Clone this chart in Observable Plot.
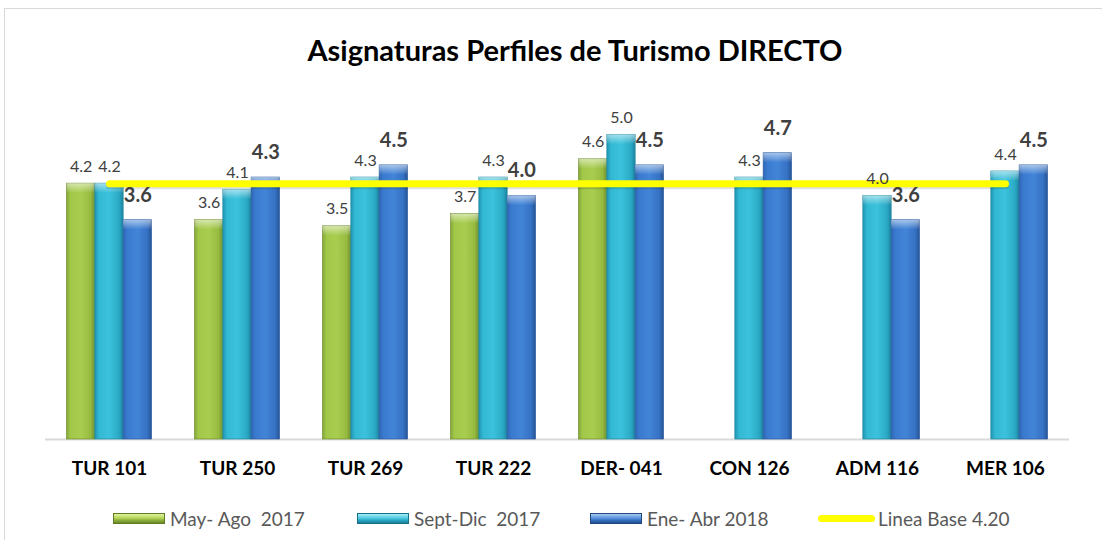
<!DOCTYPE html>
<html><head><meta charset="utf-8">
<script src="https://cdn.jsdelivr.net/npm/d3@7"></script>
<script src="https://cdn.jsdelivr.net/npm/@observablehq/plot@0.6"></script>
<style>
body{margin:0;background:#fff;overflow:hidden;}
#wrap{position:relative;width:1102px;height:540px;overflow:hidden;font-family:Lato,"Open Sans",sans-serif;background:#fff;}
#frame{position:absolute;left:4px;top:8px;width:1200px;height:600px;border-top:1px solid #d9d9d9;border-left:1px solid #d9d9d9;box-sizing:border-box;}
#title{position:relative;height:90px;box-sizing:border-box;padding-top:35px;padding-left:48px;text-align:center;font-weight:700;font-size:29px;line-height:29px;color:#000;white-space:nowrap;}
#chart{position:relative;height:405px;}
#legend{position:relative;height:45px;font-size:19px;color:#595959;}
.item{position:absolute;top:13px;height:20px;display:flex;align-items:center;white-space:pre;}
.sw{width:52px;height:11px;margin-right:5px;box-sizing:border-box;}
.ln{width:57px;height:7px;border-radius:4px;background:#ffff00;margin-right:3px;}
</style></head>
<body>
<div id="wrap">
  <div id="frame"></div>
  <div id="title"></div>
  <div id="chart"></div>
  <div id="legend"></div>
</div>
<script>
const titleText = "Asignaturas Perfiles de Turismo DIRECTO";
const categories = ["TUR 101","TUR 250","TUR 269","TUR 222","DER- 041","CON 126","ADM 116","MER 106"];
const seriesNames = ["May- Ago  2017","Sept-Dic  2017","Ene- Abr 2018"];
const mayAgo2017  = [4.2, 3.6, 3.5, 3.7, 4.6, null, null, null];
const septDic2017 = [4.2, 4.1, 4.3, 4.3, 5.0, 4.3, 4.0, 4.4];
const eneAbr2018  = [3.6, 4.3, 4.5, 4.0, 4.5, 4.7, 3.6, 4.5];
const lineaBase = 4.20;
const lineaBaseLabel = "Linea Base 4.20";

document.getElementById("title").textContent = titleText;

const seriesValues = [mayAgo2017, septDic2017, eneAbr2018];
const rowsOf = vals => categories.map((c, i) => ({cat: c, v: vals[i]})).filter(d => d.v != null);

const W = 1102, H = 405, mL = 45, mR = 33, pIn = 0.336, pOut = 0.168;
const bw = (W - mL - mR) / (categories.length - pIn + 2 * pOut) * (1 - pIn);
const third = bw / 3;
const slots = [
  {insetLeft: 0, insetRight: 2 * third},
  {insetLeft: third, insetRight: third},
  {insetLeft: 2 * third, insetRight: 0}
];
const dxs = [-third, 0, third];
const strokes = ["#6d8c2a", "#1f8aa5", "#2a5a9e"];
const grads = ["gMay", "gSep", "gEne"];

const marks = [Plot.ruleY([0], {stroke: "#d9d9d9", strokeWidth: 2})];
seriesValues.forEach((vals, s) => {
  const rows = rowsOf(vals);
  marks.push(Plot.barY(rows, {x: "cat", y: "v", fill: `url(#${grads[s]})`, stroke: strokes[s], strokeWidth: 0.7, ...slots[s]}));
  marks.push(Plot.barY(rows, {x: "cat", y1: d => d.v, y2: d => d.v - 0.16, fill: "url(#hl)", ...slots[s]}));
});
// linea base (shadow + line)
marks.push(Plot.lineY(categories, {x: d => d, y: () => lineaBase, stroke: "#000", strokeOpacity: 0.12, strokeWidth: 7, dy: 2, strokeLinecap: "round"}));
marks.push(Plot.lineY(categories, {x: d => d, y: () => lineaBase, stroke: "#ffff00", strokeWidth: 7, strokeLinecap: "round"}));
// labels
seriesValues.forEach((vals, s) => {
  const rows = rowsOf(vals);
  const bold = s === 2;
  marks.push(Plot.text(rows, {
    x: "cat", y: "v", text: d => d.v.toFixed(1), dx: dxs[s], dy: bold ? -25 : -17,
    fill: "#404040", fontSize: bold ? 20 : 16, fontWeight: bold ? "bold" : "normal"
  }));
});

const svg = Plot.plot({
  width: W, height: H,
  marginLeft: mL, marginRight: mR, marginTop: 14, marginBottom: 56,
  style: {fontFamily: "Lato, 'Open Sans', sans-serif", fontSize: "19px", fontWeight: "bold", color: "#000", background: "transparent", overflow: "visible"},
  x: {domain: categories, paddingInner: pIn, paddingOuter: pOut, round: false, tickSize: 0, tickPadding: 22, label: null},
  y: {domain: [0, 5.5], axis: null},
  marks
});

const ns = "http://www.w3.org/2000/svg";
const defs = document.createElementNS(ns, "defs");
defs.innerHTML = `
<linearGradient id="gMay" x1="0" x2="1" y1="0" y2="0">
  <stop offset="0" stop-color="#86a938"/><stop offset="0.15" stop-color="#a2c84a"/>
  <stop offset="0.5" stop-color="#a9cd4e"/><stop offset="0.85" stop-color="#96bb41"/><stop offset="1" stop-color="#6f8f2a"/>
</linearGradient>
<linearGradient id="gSep" x1="0" x2="1" y1="0" y2="0">
  <stop offset="0" stop-color="#2196b1"/><stop offset="0.15" stop-color="#33b8d3"/>
  <stop offset="0.5" stop-color="#3cc2dc"/><stop offset="0.85" stop-color="#2aa9c5"/><stop offset="1" stop-color="#1c84a0"/>
</linearGradient>
<linearGradient id="gEne" x1="0" x2="1" y1="0" y2="0">
  <stop offset="0" stop-color="#2f67b5"/><stop offset="0.15" stop-color="#3a7ace"/>
  <stop offset="0.5" stop-color="#4285d8"/><stop offset="0.85" stop-color="#3571c4"/><stop offset="1" stop-color="#275395"/>
</linearGradient>
<linearGradient id="hl" x1="0" x2="0" y1="0" y2="1">
  <stop offset="0" stop-color="#ffffff" stop-opacity="0.55"/><stop offset="1" stop-color="#ffffff" stop-opacity="0"/>
</linearGradient>`;
svg.insertBefore(defs, svg.firstChild);
document.getElementById("chart").appendChild(svg);

// legend
const swatchCss = [
  "background:linear-gradient(#e2f3a0,#b4d65a 45%,#8cae3c 70%,#6c8a2a);border:1px solid #5f7b24;",
  "background:linear-gradient(#a8ecf8,#4fcbe3 45%,#2aa6c2 70%,#1a7f99);border:1px solid #176f86;",
  "background:linear-gradient(#a9c9f2,#5b93dc 45%,#356fc0 70%,#244f8f);border:1px solid #21477f;"
];
const legendLeft = [113, 357, 590, 818];
const legend = document.getElementById("legend");
seriesNames.forEach((name, i) => {
  const it = document.createElement("div");
  it.className = "item";
  it.style.left = legendLeft[i] + "px";
  it.innerHTML = `<div class="sw" style="${swatchCss[i]}"></div><span></span>`;
  it.querySelector("span").textContent = name;
  legend.appendChild(it);
});
const li = document.createElement("div");
li.className = "item";
li.style.left = legendLeft[3] + "px";
li.innerHTML = `<div class="ln"></div><span></span>`;
li.querySelector("span").textContent = lineaBaseLabel;
legend.appendChild(li);
</script>
</body></html>
